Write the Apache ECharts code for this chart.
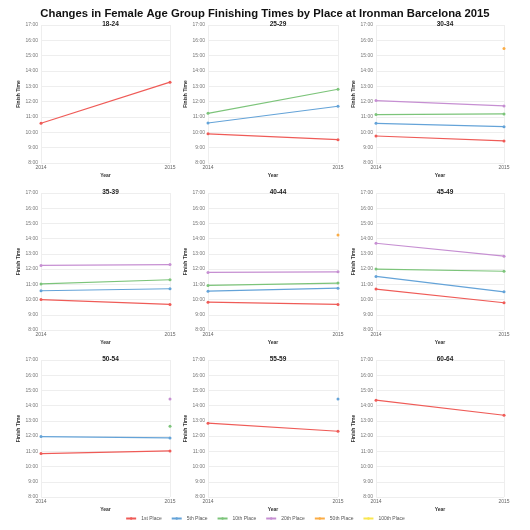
<!DOCTYPE html>
<html>
<head>
<meta charset="utf-8">
<script src="https://cdn.jsdelivr.net/npm/echarts@6/dist/echarts.min.js"></script>
<style>
html, body { margin: 0; padding: 0; background: #fff; }
#chart-panel { width: 530px; height: 530px; }
</style>
</head>
<body>
<div id="chart-panel"></div>
<script>
var ageGroups = ['18-24', '25-29', '30-34', '35-39', '40-44', '45-49', '50-54', '55-59', '60-64'];
var years = ['2014', '2015'];
var places = ['1st Place', '5th Place', '10th Place', '20th Place', '50th Place', '100th Place'];
var placeColors = ['#ef5b57', '#64a3d8', '#7cc47a', '#c68fd2', '#fbac45', '#f9e64f'];
var yTicks = [8, 9, 10, 11, 12, 13, 14, 15, 16, 17];

// finish time in hours, [2014, 2015] per age group
var first = [[10.59, 13.27], [9.9, 9.52], [9.76, 9.44], [10.0, 9.68], [9.83, 9.68], [10.69, 9.79], [10.85, 11.03], [12.85, 12.32], [14.36, 13.37]];
var fifth = [[null, null], [10.61, 11.7], [10.59, 10.37], [10.58, 10.71], [10.55, 10.75], [11.52, 10.51], [11.97, 11.88], [null, 14.43], [null, null]];
var tenth = [[null, null], [11.24, 12.81], [11.16, 11.2], [11.03, 11.3], [10.93, 11.08], [12.0, 11.86], [null, 12.65], [null, null], [null, null]];
var twentieth = [[null, null], [null, null], [12.07, 11.72], [12.24, 12.3], [11.78, 11.82], [13.7, 12.85], [null, 14.43], [null, null], [null, null]];
var fiftieth = [[null, null], [null, null], [null, 15.47], [null, null], [null, 14.24], [null, null], [null, null], [null, null], [null, null]];
var hundredth = [[null, null], [null, null], [null, null], [null, null], [null, null], [null, null], [null, null], [null, null], [null, null]];
var placeData = [first, fifth, tenth, twentieth, fiftieth, hundredth];

var colLeft = [41, 208, 376];
var colWidth = [129, 130, 128];
var rowTop = [25, 193, 360];
var rowHeight = [138, 137, 137];

var myChart = echarts.init(document.getElementById('chart-panel'));

var grids = [], xAxes = [], yAxes = [], titles = [], series = [];

titles.push({
	text: 'Changes in Female Age Group Finishing Times by Place at Ironman Barcelona 2015',
	left: 'center',
	top: 3,
	textStyle: { fontSize: 11.3, fontWeight: 'bold', color: '#111', fontFamily: 'Liberation Sans' }
});

for (var i = 0; i < ageGroups.length; i++) {
	var c = i % 3, r = Math.floor(i / 3);
	grids.push({ left: colLeft[c], top: rowTop[r], width: colWidth[c], height: rowHeight[r] });
	titles.push({
		text: ageGroups[i],
		left: colLeft[c] + colWidth[c] / 2,
		top: rowTop[r] - 9,
		textAlign: 'center',
		textStyle: { fontSize: 6.5, fontWeight: 'bold', color: '#222', fontFamily: 'Liberation Sans' }
	});
	xAxes.push({
		gridIndex: i,
		type: 'category',
		data: years,
		boundaryGap: false,
		name: 'Year',
		nameLocation: 'middle',
		nameGap: 10,
		nameTextStyle: { fontSize: 5, fontWeight: 'bold', color: '#333' },
		axisLine: { show: false },
		axisTick: { show: false },
		axisLabel: { fontSize: 5, color: '#666', margin: 2 },
		splitLine: { show: true, lineStyle: { color: '#eee' } }
	});
	yAxes.push({
		gridIndex: i,
		type: 'value',
		min: yTicks[0],
		max: yTicks[yTicks.length - 1],
		interval: 1,
		name: 'Finish Time',
		nameLocation: 'middle',
		nameGap: 20,
		nameTextStyle: { fontSize: 5, fontWeight: 'bold', color: '#333' },
		axisLine: { show: false },
		axisTick: { show: false },
		axisLabel: { fontSize: 5, color: '#777', margin: 3, formatter: function (v) { return v + ':00'; } },
		splitLine: { show: true, lineStyle: { color: '#eee' } }
	});
	for (var p = 0; p < places.length; p++) {
		series.push({
			name: places[p],
			type: 'line',
			xAxisIndex: i,
			yAxisIndex: i,
			data: placeData[p][i],
			symbol: 'circle',
			symbolSize: 3,
			showSymbol: true,
			connectNulls: false,
			lineStyle: { width: 1.2, color: placeColors[p] },
			itemStyle: { color: placeColors[p] },
			animation: false
		});
	}
}

var option = {
	backgroundColor: '#fff',
	title: titles,
	grid: grids,
	xAxis: xAxes,
	yAxis: yAxes,
	legend: {
		data: places,
		bottom: 4,
		left: 'center',
		itemWidth: 10,
		itemHeight: 3,
		itemGap: 9,
		textStyle: { fontSize: 5, color: '#555' }
	},
	series: series
};
myChart.setOption(option);
</script>
</body>
</html>
